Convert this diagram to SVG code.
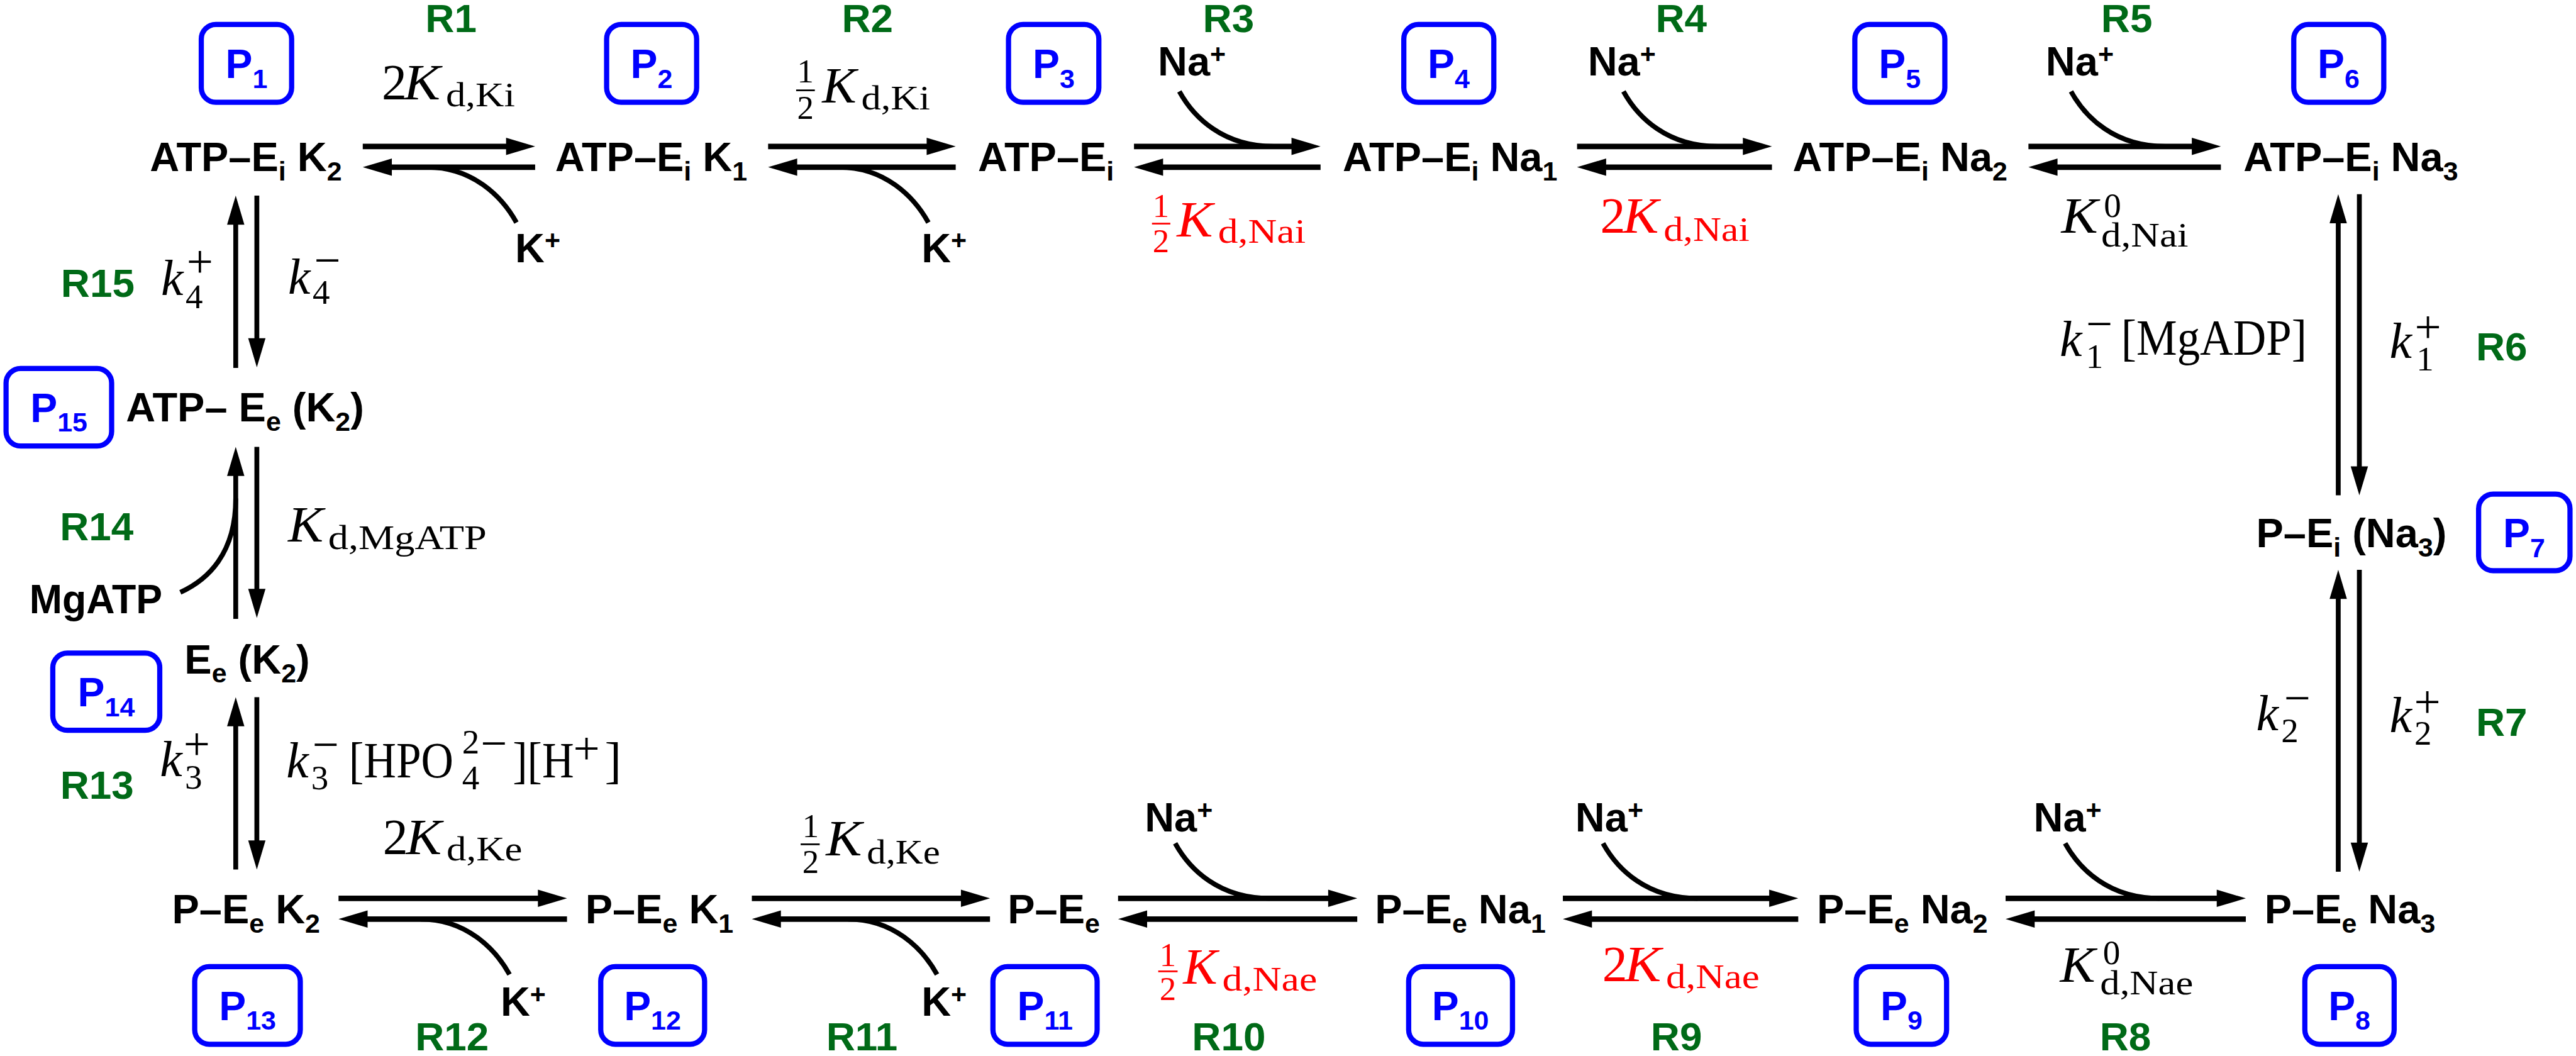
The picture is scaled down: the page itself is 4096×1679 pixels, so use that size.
<svg xmlns="http://www.w3.org/2000/svg" width="4096" height="1679" viewBox="0 0 4096 1679">
<defs>
<style>
.n{font-family:"Liberation Sans",Arial,sans-serif;font-weight:bold;font-size:118px;fill:#000}
.s{font-size:78px}
.pl{font-family:"Liberation Sans",Arial,sans-serif;font-weight:bold;font-size:117px;fill:#0000ff;text-anchor:middle}
.rl{font-family:"Liberation Sans",Arial,sans-serif;font-weight:bold;font-size:116px;fill:#006a17}
.c{text-anchor:middle}
.m{font-family:"Liberation Serif","Times New Roman",serif;font-size:145px;fill:#000}
.mi{font-style:italic}
.ms{font-size:100px}
.mf{font-size:96px;text-anchor:middle}
.mp{font-size:136px}
.red{fill:#ff0000}
.fb{stroke:#000;stroke-width:5}
.fbr{stroke:#ff0000;stroke-width:5}
.box{fill:none;stroke:#0000ff;stroke-width:15}
.ar{stroke:#000;stroke-width:16;fill:none;marker-end:url(#ah)}
.av{stroke:#000;stroke-width:14;fill:none;marker-end:url(#ah)}
.cv{stroke:#000;stroke-width:14;fill:none}
</style>
<marker id="ah" markerUnits="userSpaceOnUse" orient="auto" viewBox="0 -25 84 50" markerWidth="84" markerHeight="50" refX="2" refY="0" overflow="visible">
<path d="M0,-25 L84,0 L0,25 Z" fill="#000"/>
</marker>
</defs>
<rect x="0" y="0" width="4096" height="1679" fill="#fff"/>
<g transform="scale(0.5504)">

<!-- Connectors -->
<g id="connectors">
<line class="ar" x1="1048" y1="423" x2="1464" y2="423"/>
<line class="ar" x1="1546" y1="483" x2="1130" y2="483"/>
<line class="ar" x1="2219" y1="423" x2="2679" y2="423"/>
<line class="ar" x1="2761" y1="483" x2="2301" y2="483"/>
<line class="ar" x1="3276" y1="423" x2="3733" y2="423"/>
<line class="ar" x1="3815" y1="483" x2="3358" y2="483"/>
<line class="ar" x1="4556" y1="423" x2="5037" y2="423"/>
<line class="ar" x1="5119" y1="483" x2="4638" y2="483"/>
<line class="ar" x1="5860" y1="423" x2="6334" y2="423"/>
<line class="ar" x1="6416" y1="483" x2="5942" y2="483"/>
<line class="ar" x1="978" y1="2595" x2="1556" y2="2595"/>
<line class="ar" x1="1638" y1="2655" x2="1060" y2="2655"/>
<line class="ar" x1="2172" y1="2595" x2="2778" y2="2595"/>
<line class="ar" x1="2860" y1="2655" x2="2254" y2="2655"/>
<line class="ar" x1="3230" y1="2595" x2="3839" y2="2595"/>
<line class="ar" x1="3921" y1="2655" x2="3312" y2="2655"/>
<line class="ar" x1="4515" y1="2595" x2="5113" y2="2595"/>
<line class="ar" x1="5195" y1="2655" x2="4597" y2="2655"/>
<line class="ar" x1="5794" y1="2595" x2="6406" y2="2595"/>
<line class="ar" x1="6488" y1="2655" x2="5876" y2="2655"/>
<line class="av" x1="681" y1="1063" x2="681" y2="647"/>
<line class="av" x1="742" y1="565" x2="742" y2="979"/>
<line class="av" x1="681" y1="1788" x2="681" y2="1373"/>
<line class="av" x1="742" y1="1291" x2="742" y2="1703"/>
<line class="av" x1="681" y1="2512" x2="681" y2="2096"/>
<line class="av" x1="742" y1="2014" x2="742" y2="2430"/>
<line class="av" x1="6755" y1="1431" x2="6755" y2="643"/>
<line class="av" x1="6816" y1="561" x2="6816" y2="1349"/>
<line class="av" x1="6755" y1="2518" x2="6755" y2="1728"/>
<line class="av" x1="6816" y1="1646" x2="6816" y2="2436"/>
<path class="cv" d="M1235,483 C1365,483 1450,567 1492,643"/>
<path class="cv" d="M2425,483 C2555,483 2640,567 2682,643"/>
<path class="cv" d="M3407,264 C3449,340 3534,423 3680,423"/>
<path class="cv" d="M4690,264 C4732,340 4817,423 4963,423"/>
<path class="cv" d="M5983,264 C6025,340 6110,423 6256,423"/>
<path class="cv" d="M3395,2436 C3437,2512 3522,2595 3668,2595"/>
<path class="cv" d="M4631,2436 C4673,2512 4758,2595 4904,2595"/>
<path class="cv" d="M5966,2436 C6008,2512 6093,2595 6239,2595"/>
<path class="cv" d="M1215,2655 C1345,2655 1430,2739 1472,2815"/>
<path class="cv" d="M2450,2655 C2580,2655 2665,2739 2707,2815"/>
<path class="cv" d="M521,1711 C600,1675 681,1600 681,1440"/>
</g>

<!-- Nodes (states) -->
<g id="n1"><text class="n" x="433" y="495">ATP–E<tspan class="s" dy="27">i</tspan><tspan dy="-27"> K</tspan><tspan class="s" dy="27">2</tspan></text></g>
<g id="n2"><text class="n" x="1604" y="495">ATP–E<tspan class="s" dy="27">i</tspan><tspan dy="-27"> K</tspan><tspan class="s" dy="27">1</tspan></text></g>
<g id="n3"><text class="n" x="2825" y="495">ATP–E<tspan class="s" dy="27">i</tspan></text></g>
<g id="n4"><text class="n" x="3879" y="495">ATP–E<tspan class="s" dy="27">i</tspan><tspan dy="-27"> Na</tspan><tspan class="s" dy="27">1</tspan></text></g>
<g id="n5"><text class="n" x="5179" y="495">ATP–E<tspan class="s" dy="27">i</tspan><tspan dy="-27"> Na</tspan><tspan class="s" dy="27">2</tspan></text></g>
<g id="n6"><text class="n" x="6481" y="495">ATP–E<tspan class="s" dy="27">i</tspan><tspan dy="-27"> Na</tspan><tspan class="s" dy="27">3</tspan></text></g>
<g id="n7"><text class="n" x="6518" y="1581">P–E<tspan class="s" dy="27">i</tspan><tspan dy="-27"> (Na</tspan><tspan class="s" dy="27">3</tspan><tspan dy="-27">)</tspan></text></g>
<g id="n8"><text class="n" x="6542" y="2668">P–E<tspan class="s" dy="27">e</tspan><tspan dy="-27"> Na</tspan><tspan class="s" dy="27">3</tspan></text></g>
<g id="n9"><text class="n" x="5249" y="2668">P–E<tspan class="s" dy="27">e</tspan><tspan dy="-27"> Na</tspan><tspan class="s" dy="27">2</tspan></text></g>
<g id="n10"><text class="n" x="3972" y="2668">P–E<tspan class="s" dy="27">e</tspan><tspan dy="-27"> Na</tspan><tspan class="s" dy="27">1</tspan></text></g>
<g id="n11"><text class="n" x="2911" y="2668">P–E<tspan class="s" dy="27">e</tspan></text></g>
<g id="n12"><text class="n" x="1691" y="2668">P–E<tspan class="s" dy="27">e</tspan><tspan dy="-27"> K</tspan><tspan class="s" dy="27">1</tspan></text></g>
<g id="n13"><text class="n" x="497" y="2668">P–E<tspan class="s" dy="27">e</tspan><tspan dy="-27"> K</tspan><tspan class="s" dy="27">2</tspan></text></g>
<g id="n14"><text class="n" x="533" y="1945">E<tspan class="s" dy="27">e</tspan><tspan dy="-27"> (K</tspan><tspan class="s" dy="27">2</tspan><tspan dy="-27">)</tspan></text></g>
<g id="n15"><text class="n" x="364" y="1218">ATP– E<tspan class="s" dy="27">e</tspan><tspan dy="-27"> (K</tspan><tspan class="s" dy="27">2</tspan><tspan dy="-27">)</tspan></text></g>

<!-- Ions / substrates -->
<g id="ions">
<text class="n" x="1488" y="757">K<tspan class="s" dy="-37">+</tspan></text>
<text class="n" x="2662" y="757">K<tspan class="s" dy="-37">+</tspan></text>
<text class="n" x="3345" y="218">Na<tspan class="s" dy="-37">+</tspan></text>
<text class="n" x="4587" y="218">Na<tspan class="s" dy="-37">+</tspan></text>
<text class="n" x="5910" y="218">Na<tspan class="s" dy="-37">+</tspan></text>
<text class="n" x="3307" y="2402">Na<tspan class="s" dy="-37">+</tspan></text>
<text class="n" x="4551" y="2402">Na<tspan class="s" dy="-37">+</tspan></text>
<text class="n" x="5875" y="2402">Na<tspan class="s" dy="-37">+</tspan></text>
<text class="n" x="1446" y="2935">K<tspan class="s" dy="-37">+</tspan></text>
<text class="n" x="2662" y="2935">K<tspan class="s" dy="-37">+</tspan></text>
<text class="n" x="85" y="1771" textLength="384" lengthAdjust="spacingAndGlyphs">MgATP</text>
</g>

<!-- P boxes -->
<g id="p1"><rect class="box" x="581.5" y="70.5" width="261" height="225" rx="42"/><text class="pl" x="712" y="226">P<tspan class="s" dy="28">1</tspan></text></g>
<g id="p2"><rect class="box" x="1752.5" y="70.5" width="260" height="225" rx="42"/><text class="pl" x="1882" y="226">P<tspan class="s" dy="28">2</tspan></text></g>
<g id="p3"><rect class="box" x="2913.5" y="70.5" width="261" height="225" rx="42"/><text class="pl" x="3044" y="226">P<tspan class="s" dy="28">3</tspan></text></g>
<g id="p4"><rect class="box" x="4055.5" y="70.5" width="260" height="225" rx="42"/><text class="pl" x="4185" y="226">P<tspan class="s" dy="28">4</tspan></text></g>
<g id="p5"><rect class="box" x="5358.5" y="70.5" width="260" height="225" rx="42"/><text class="pl" x="5488" y="226">P<tspan class="s" dy="28">5</tspan></text></g>
<g id="p6"><rect class="box" x="6626.5" y="70.5" width="260" height="225" rx="42"/><text class="pl" x="6756" y="226">P<tspan class="s" dy="28">6</tspan></text></g>
<g id="p7"><rect class="box" x="7160.5" y="1427.5" width="264" height="221" rx="42"/><text class="pl" x="7292" y="1581">P<tspan class="s" dy="28">7</tspan></text></g>
<g id="p8"><rect class="box" x="6658.5" y="2792.5" width="258" height="224" rx="42"/><text class="pl" x="6787" y="2947">P<tspan class="s" dy="28">8</tspan></text></g>
<g id="p9"><rect class="box" x="5362.5" y="2792.5" width="261" height="224" rx="42"/><text class="pl" x="5493" y="2947">P<tspan class="s" dy="28">9</tspan></text></g>
<g id="p10"><rect class="box" x="4069.5" y="2792.5" width="300" height="224" rx="42"/><text class="pl" x="4219" y="2947">P<tspan class="s" dy="28">10</tspan></text></g>
<g id="p11"><rect class="box" x="2868.5" y="2792.5" width="301" height="224" rx="42"/><text class="pl" x="3019" y="2947">P<tspan class="s" dy="28">11</tspan></text></g>
<g id="p12"><rect class="box" x="1735.5" y="2792.5" width="300" height="224" rx="42"/><text class="pl" x="1885" y="2947">P<tspan class="s" dy="28">12</tspan></text></g>
<g id="p13"><rect class="box" x="562.5" y="2792.5" width="305" height="224" rx="42"/><text class="pl" x="715" y="2947">P<tspan class="s" dy="28">13</tspan></text></g>
<g id="p14"><rect class="box" x="152.5" y="1886.5" width="309" height="223" rx="42"/><text class="pl" x="307" y="2041">P<tspan class="s" dy="28">14</tspan></text></g>
<g id="p15"><rect class="box" x="17.5" y="1064.5" width="305" height="224" rx="42"/><text class="pl" x="170" y="1219">P<tspan class="s" dy="28">15</tspan></text></g>

<!-- Reaction labels -->
<g id="rlabels">
<text class="rl c" x="1303" y="92">R1</text>
<text class="rl c" x="2506" y="92">R2</text>
<text class="rl c" x="3549" y="92">R3</text>
<text class="rl c" x="4857" y="92">R4</text>
<text class="rl c" x="6144" y="92">R5</text>
<text class="rl" x="7153" y="1041">R6</text>
<text class="rl" x="7153" y="2125">R7</text>
<text class="rl c" x="6140" y="3034">R8</text>
<text class="rl c" x="4843" y="3034">R9</text>
<text class="rl c" x="3550" y="3034">R10</text>
<text class="rl c" x="2490" y="3034">R11</text>
<text class="rl c" x="1306" y="3034">R12</text>
<text class="rl" x="174" y="2307">R13</text>
<text class="rl" x="173" y="1561">R14</text>
<text class="rl" x="176" y="858">R15</text>
</g>

<!-- Rate / constant labels -->
<g id="k-r1">
<text class="m" x="1103" y="287">2</text>
<text class="m mi" x="1166" y="287" textLength="106" lengthAdjust="spacingAndGlyphs">K</text>
<text class="m ms" x="1288" y="307" textLength="200" lengthAdjust="spacingAndGlyphs">d,Ki</text>
</g>
<g id="k-r2">
<text class="m mf" x="2327" y="238">1</text>
<line class="fb" x1="2300" y1="261" x2="2354" y2="261"/>
<text class="m mf" x="2327" y="343">2</text>
<text class="m mi" x="2375" y="297" textLength="99" lengthAdjust="spacingAndGlyphs">K</text>
<text class="m ms" x="2488" y="316" textLength="199" lengthAdjust="spacingAndGlyphs">d,Ki</text>
</g>
<g id="k-r3">
<text class="m mf red" x="3354" y="626">1</text>
<line class="fbr" x1="3328" y1="646" x2="3381" y2="646"/>
<text class="m mf red" x="3354" y="729">2</text>
<text class="m mi red" x="3400" y="683" textLength="104" lengthAdjust="spacingAndGlyphs">K</text>
<text class="m ms red" x="3519" y="701" textLength="253" lengthAdjust="spacingAndGlyphs">d,Nai</text>
</g>
<g id="k-r4">
<text class="m red" x="4623" y="673">2</text>
<text class="m mi red" x="4688" y="673" textLength="104" lengthAdjust="spacingAndGlyphs">K</text>
<text class="m ms red" x="4806" y="695" textLength="248" lengthAdjust="spacingAndGlyphs">d,Nai</text>
</g>
<g id="k-r5">
<text class="m mi" x="5955" y="673" textLength="106" lengthAdjust="spacingAndGlyphs">K</text>
<text class="m ms" x="6078" y="626">0</text>
<text class="m ms" x="6070" y="713" textLength="252" lengthAdjust="spacingAndGlyphs">d,Nai</text>
</g>
<g id="k-r6">
<text class="m mi" x="5950" y="1028">k</text>
<text class="m ms" x="6026" y="1062">1</text>
<text class="m mp" x="6026" y="982">−</text>
<text class="m" x="6128" y="1025" textLength="536" lengthAdjust="spacingAndGlyphs">[MgADP]</text>
<text class="m mi" x="6903" y="1033">k</text>
<text class="m mp" x="6976" y="990">+</text>
<text class="m ms" x="6981" y="1071">1</text>
</g>
<g id="k-r7">
<text class="m mi" x="6518" y="2110">k</text>
<text class="m ms" x="6590" y="2144">2</text>
<text class="m mp" x="6598" y="2063">−</text>
<text class="m mi" x="6903" y="2114">k</text>
<text class="m mp" x="6974" y="2073">+</text>
<text class="m ms" x="6975" y="2152">2</text>
</g>
<g id="k-r8">
<text class="m mi" x="5951" y="2836" textLength="102" lengthAdjust="spacingAndGlyphs">K</text>
<text class="m ms" x="6075" y="2786">0</text>
<text class="m ms" x="6067" y="2873" textLength="269" lengthAdjust="spacingAndGlyphs">d,Nae</text>
</g>
<g id="k-r9">
<text class="m red" x="4629" y="2834">2</text>
<text class="m mi red" x="4693" y="2834" textLength="106" lengthAdjust="spacingAndGlyphs">K</text>
<text class="m ms red" x="4813" y="2854" textLength="270" lengthAdjust="spacingAndGlyphs">d,Nae</text>
</g>
<g id="k-r10">
<text class="m mf red" x="3374" y="2791">1</text>
<line class="fbr" x1="3346" y1="2806" x2="3402" y2="2806"/>
<text class="m mf red" x="3374" y="2888">2</text>
<text class="m mi red" x="3418" y="2842" textLength="99" lengthAdjust="spacingAndGlyphs">K</text>
<text class="m ms red" x="3531" y="2862" textLength="274" lengthAdjust="spacingAndGlyphs">d,Nae</text>
</g>
<g id="k-r11">
<text class="m mf" x="2342" y="2418">1</text>
<line class="fb" x1="2313" y1="2439" x2="2368" y2="2439"/>
<text class="m mf" x="2342" y="2521">2</text>
<text class="m mi" x="2386" y="2471" textLength="104" lengthAdjust="spacingAndGlyphs">K</text>
<text class="m ms" x="2504" y="2494" textLength="212" lengthAdjust="spacingAndGlyphs">d,Ke</text>
</g>
<g id="k-r12">
<text class="m" x="1106" y="2467">2</text>
<text class="m mi" x="1173" y="2467" textLength="103" lengthAdjust="spacingAndGlyphs">K</text>
<text class="m ms" x="1290" y="2485" textLength="219" lengthAdjust="spacingAndGlyphs">d,Ke</text>
</g>
<g id="k-r13">
<text class="m mi" x="462" y="2242">k</text>
<text class="m mp" x="530" y="2194">+</text>
<text class="m ms" x="534" y="2279">3</text>
<text class="m mi" x="827" y="2245">k</text>
<text class="m mp" x="902" y="2196">−</text>
<text class="m ms" x="899" y="2281">3</text>
<text class="m" x="1008" y="2245" textLength="302" lengthAdjust="spacingAndGlyphs">[HPO</text>
<text class="m ms" x="1335" y="2281">4</text>
<text class="m ms" x="1335" y="2176">2</text>
<text class="m mp" x="1388" y="2193">−</text>
<text class="m" x="1481" y="2245" textLength="177" lengthAdjust="spacingAndGlyphs">][H</text>
<text class="m mp" x="1656" y="2208">+</text>
<text class="m" x="1747" y="2245">]</text>
</g>
<g id="k-r14">
<text class="m mi" x="832" y="1565" textLength="102" lengthAdjust="spacingAndGlyphs">K</text>
<text class="m ms" x="948" y="1586" textLength="458" lengthAdjust="spacingAndGlyphs">d,MgATP</text>
</g>
<g id="k-r15">
<text class="m mi" x="465" y="852">k</text>
<text class="m mp" x="539" y="801">+</text>
<text class="m ms" x="536" y="890">4</text>
<text class="m mi" x="832" y="848">k</text>
<text class="m mp" x="907" y="797">−</text>
<text class="m ms" x="903" y="878">4</text>
</g>
</g>
</svg>
